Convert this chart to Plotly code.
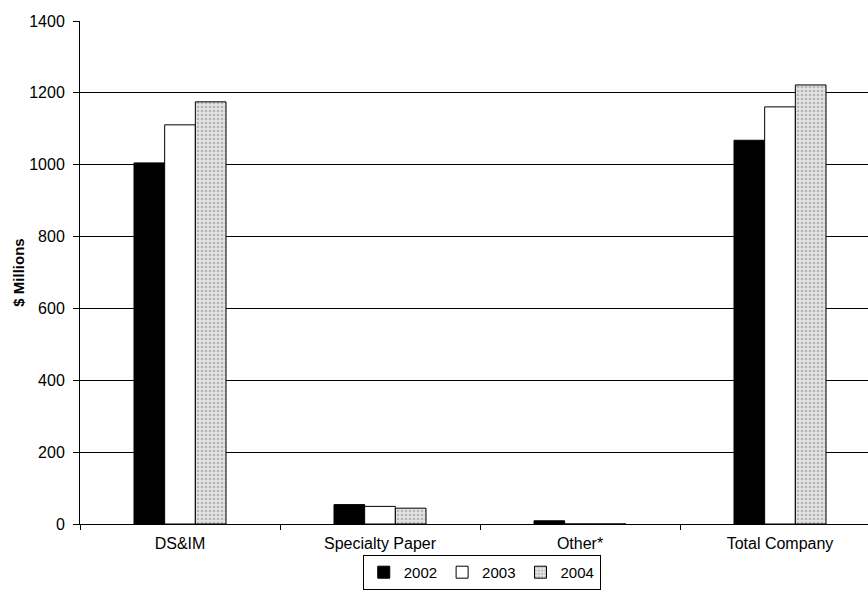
import plotly.graph_objects as go

categories = ["DS&IM", "Specialty Paper", "Other*", "Total Company"]
years = ["2002", "2003", "2004"]
v2002 = [1005, 54, 9, 1068]
v2003 = [1111, 49, 0, 1161]
v2004 = [1175, 44, 0, 1222]

fig = go.Figure()
fig.add_trace(go.Bar(name=years[0], x=categories, y=v2002,
                     marker=dict(color="black", line=dict(color="black", width=1))))
fig.add_trace(go.Bar(name=years[1], x=categories, y=v2003,
                     marker=dict(color="white", line=dict(color="black", width=1))))
fig.add_trace(go.Bar(name=years[2], x=categories, y=v2004,
                     marker=dict(color="#d9d9d9", line=dict(color="black", width=1),
                                 pattern=dict(shape=".", fgcolor="#8a8a8a", bgcolor="#e3e3e3",
                                              size=4, solidity=0.35))))

fig.update_layout(
    width=868, height=598,
    margin=dict(l=80, r=0, t=21, b=74),
    paper_bgcolor="white", plot_bgcolor="white",
    barmode="group", bargap=0.54, bargroupgap=0,
    font=dict(family="Liberation Sans, Arial, sans-serif", size=15, color="black"),
    xaxis=dict(type="category", range=[-0.5, 3.44], showgrid=False,
               showline=True, linecolor="black", linewidth=1,
               ticks="outside", tickson="boundaries", ticklen=5, tickcolor="black",
               ticklabelstandoff=5,
               tickfont=dict(size=16)),
    yaxis=dict(range=[0, 1400], dtick=200, showgrid=True, gridcolor="black", gridwidth=1,
               showline=True, linecolor="black", linewidth=1,
               ticks="outside", ticklen=6, tickcolor="black", zeroline=False,
               ticklabelstandoff=5,
               tickfont=dict(size=16),
               title=dict(text="<b>$ Millions</b>", font=dict(size=15), standoff=0)),
    legend=dict(orientation="h", xref="container", yref="container",
                x=0.555, xanchor="center", y=0.072, yanchor="top",
                bordercolor="black", borderwidth=1, font=dict(size=15),
                itemwidth=30, tracegroupgap=0),
    showlegend=True,
)

fig.write_html("out.html")
